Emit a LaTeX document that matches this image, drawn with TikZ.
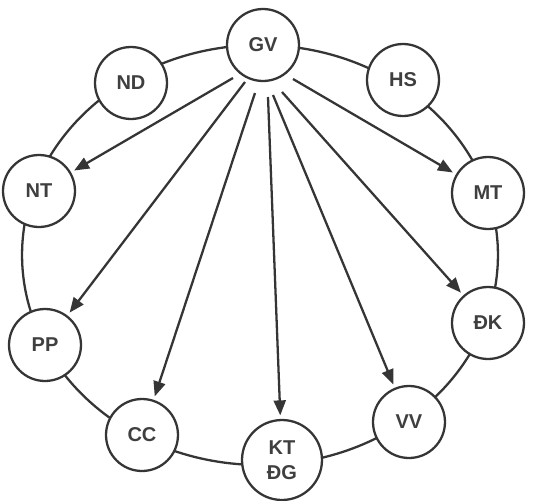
\documentclass[tikz,border=0pt]{standalone}
\usepackage{fontspec}
\setmainfont{Liberation Sans}
\usetikzlibrary{arrows.meta}
\definecolor{ink}{HTML}{353535}
\definecolor{txt}{HTML}{3F3F3F}
\begin{document}
\begin{tikzpicture}[x=0.02cm,y=-0.02cm,
  nd/.style={circle,draw=ink,line width=1.3pt,fill=white,minimum size=1.44cm,inner sep=0pt,
    font=\fontsize{11.4}{13}\selectfont\bfseries,text=txt,align=center},
  big/.style={nd,minimum size=1.6cm},
  arr/.style={draw=ink,line width=1.3pt,-{Triangle[length=0.3cm,width=0.24cm]},shorten >=2pt}]
\useasboundingbox (0,0) rectangle (539,501);
\draw[ink,line width=1.3pt] (260,255) ellipse [x radius=4.76cm,y radius=4.2cm];
\node[nd] (GV) at (263,45) {GV};
\node[nd] (ND) at (131,83) {ND};
\node[nd] (HS) at (403,80) {HS};
\node[nd] (NT) at (39,191) {NT};
\node[nd] (MT) at (488,193) {MT};
\node[nd] (PP) at (45,345) {PP};
\node[nd] (DK) at (488,323) {ĐK};
\node[nd] (CC) at (142,435) {CC};
\node[nd] (VV) at (409,422) {VV};
\node[big] (KT) at (282,460) {KT\\[1pt]ĐG};
\coordinate (sNT) at (233,78);
\coordinate (sPP) at (245,82);
\coordinate (sCC) at (255,93);
\coordinate (sKT) at (268,97);
\coordinate (sVV) at (273,95);
\coordinate (sDK) at (282,92);
\coordinate (sMT) at (293,79);
\draw[arr] (sNT) -- (NT);
\draw[arr] (sPP) -- (PP);
\draw[arr] (sCC) -- (CC);
\draw[arr] (sKT) -- (KT);
\draw[arr] (sVV) -- (VV);
\draw[arr] (sDK) -- (DK);
\draw[arr] (sMT) -- (MT);
\end{tikzpicture}
\end{document}
